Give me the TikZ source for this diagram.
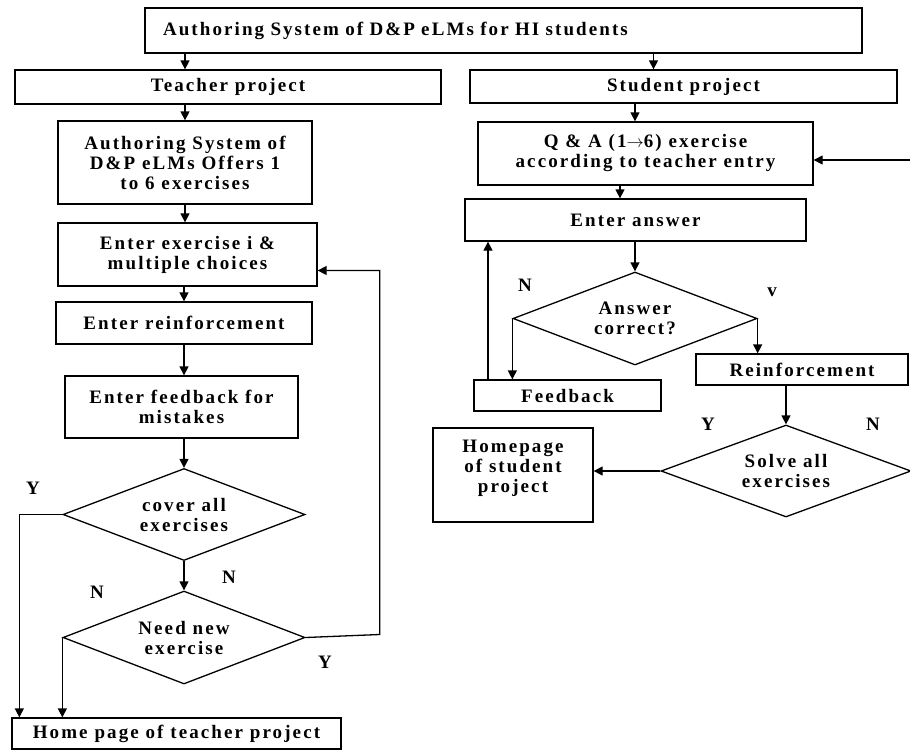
\documentclass[tikz,border=0pt]{standalone}
\usepackage{fontspec}
\newfontfamily\flowfont{Liberation Serif}[LetterSpace=11]
\usetikzlibrary{shapes.geometric,arrows.meta}

\begin{document}
\begin{tikzpicture}[x=1pt, y=-1pt, line width=1.3pt,
        font=\flowfont\bfseries\fontsize{19}{20}\selectfont,
        box/.style = {draw, rectangle, inner sep=0pt, align=center},
        dec/.style = {draw, diamond, inner sep=0pt, aspect=2.6, align=center},
        lbl/.style = {inner sep=0pt},
        arr/.style = {-{Triangle[width=9pt,length=9pt]}}]
        \useasboundingbox (0,0) rectangle (910,750);

        % teacher side
        \node[box, minimum width=717, minimum height=45, text width=681, align=left] (top) at (503.5,30.5) {Authoring System of D\&P eLMs for HI students};
        \node[box, minimum width=426, minimum height=34] (teacher) at (228,87) {Teacher project};
        \node[box, minimum width=254, minimum height=83] (author) at (185,162.5) {Authoring System of\\D\&P eLMs Offers 1\\to 6 exercises};
        \node[box, minimum width=259, minimum height=63] (enterex) at (187.5,254.5) {Enter exercise i \&\\multiple choices};
        \node[box, minimum width=256, minimum height=42] (enterre) at (184,323) {Enter reinforcement};
        \node[box, minimum width=233, minimum height=62] (enterfb) at (181.5,407) {Enter feedback for\\mistakes};
        \node[dec, minimum width=242, minimum height=92] (cover) at (184,514.5) {cover all\\exercises};
        \node[dec, minimum width=242, minimum height=93] (neednew) at (184,637.5) {Need new\\exercise};
        \node[box, minimum width=329, minimum height=31] (homeT) at (176.5,733.5) {Home page of teacher project};

        % student side
        \node[box, minimum width=427, minimum height=33] (student) at (683.5,86.5) {Student project};
        \node[box, minimum width=335, minimum height=63] (qa) at (645.5,153.5) {Q \& A (1$\rightarrow$6) exercise\\according to teacher entry};
        \node[box, minimum width=341, minimum height=42] (answer) at (635.5,220) {Enter answer};
        \node[dec, minimum width=244, minimum height=93] (correct) at (635,318.5) {Answer\\correct?};
        \node[box, minimum width=187, minimum height=31] (feedback) at (567.5,395.5) {Feedback};
        \node[box, minimum width=212, minimum height=31] (reinf) at (802,369.5) {Reinforcement};
        \node[dec, minimum width=250, minimum height=92] (solve) at (786,471) {Solve all\\exercises};
        \node[box, minimum width=160, minimum height=94] (homeS) at (513,475) {Homepage\\of student\\project\\[-2pt]\mbox{}};
        \coordinate (loopin) at (910,160);

        % branch labels
        \node[lbl] (cY) at (33,488) {Y};
        \node[lbl] (cN) at (229,577) {N};
        \node[lbl] (nN) at (97,592) {N};
        \node[lbl] (nY) at (325,662) {Y};
        \node[lbl] (aN) at (525,285) {N};
        \node[lbl] (aY) at (772,292) {v};
        \node[lbl] (sY) at (708,424) {Y};
        \node[lbl] (sN) at (873,424) {N};

        \draw[arr] (top.south -| author.north) -- (teacher.north -| author.north);
        \draw[arr] ([xshift=150pt]top.south) -- ([xshift=150pt]top.south |- student.north);
        \draw[arr] (teacher.south -| author.north) -- (author.north);
        \draw[arr] (author.south) -- (author.south |- enterex.north);
        \draw[arr] (enterre.north |- enterex.south) -- (enterre.north);
        \draw[arr] (enterre.south) -- (enterre.south |- enterfb.north);
        \draw[arr] (enterfb.south -| cover.north) -- (cover.north);
        \draw[arr] (cover.west) -| ([xshift=8pt]homeT.north west);
        \draw[arr] (cover.south) -- (neednew.north);
        \draw[arr] (neednew.west) -- (neednew.west |- homeT.north);
        \draw[arr] (neednew.east) -- ++(74,-3) |- ([yshift=-16pt]enterex.east);

        \draw[arr] (student.south -| 635,0) -- (qa.north -| 635,0);
        \draw[arr] (qa.south -| 620,0) -- (answer.north -| 620,0);
        \draw[arr] (answer.south -| correct.north) -- (correct.north);
        \draw[arr] (correct.west) -- (correct.west |- feedback.north);
        \draw[arr] (feedback.north -| 488,0) -- (answer.south -| 488,0);
        \draw[arr] (correct.east) -- (correct.east |- reinf.north);
        \draw[arr] (reinf.south -| solve.north) -- (solve.north);
        \draw[arr] (solve.west) -- (solve.west -| homeS.east);
        \draw[arr] (loopin) -- (loopin -| qa.east);
    \end{tikzpicture}
\end{document}
